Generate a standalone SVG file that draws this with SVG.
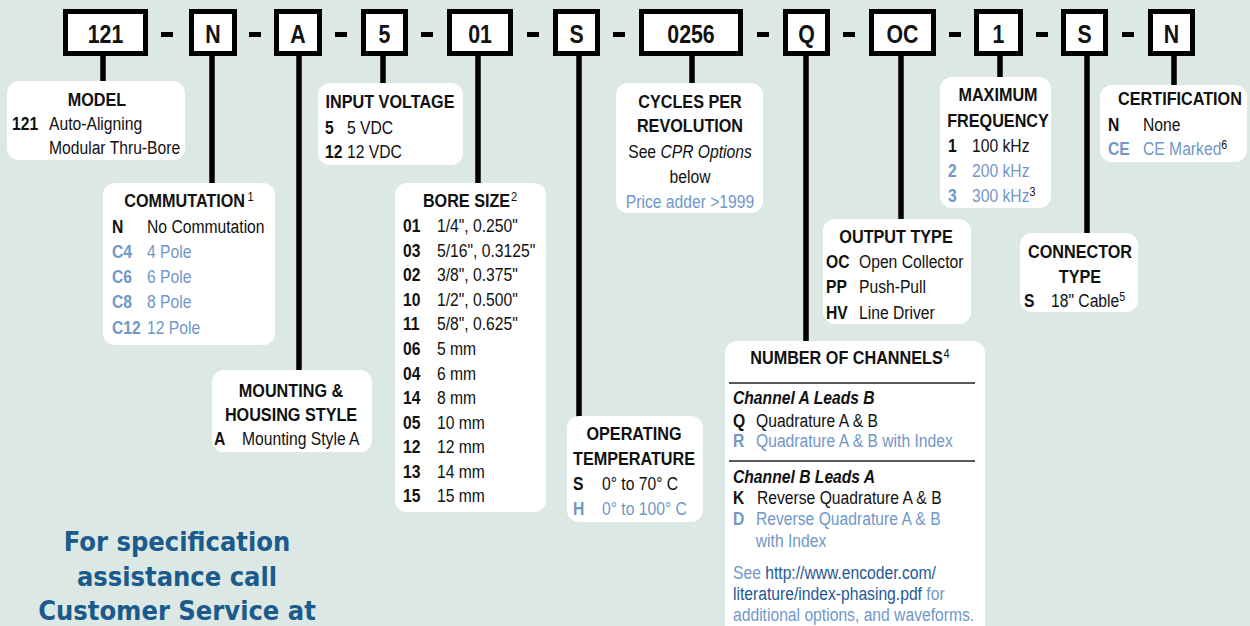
<svg xmlns="http://www.w3.org/2000/svg" width="1250" height="626" viewBox="0 0 1250 626">
<style>
text{font-family:'Liberation Sans',Arial,sans-serif;font-size:19px;fill:#111;transform-box:fill-box;transform-origin:0 0;transform:scaleX(.825)}
.code{font-weight:bold;font-size:26px;text-anchor:middle;transform-origin:50% 0;transform:scaleX(.82)}
.box{fill:#fff;stroke:#000;stroke-width:5}
.card{fill:#fff}
.ln{stroke:#000;stroke-width:5.5;fill:none}
.dash{fill:#000}
.h{font-weight:bold;text-anchor:middle;transform-origin:50% 0;transform:scaleX(.853)}
.m{text-anchor:middle;transform-origin:50% 0}
.k{font-weight:bold}
.bl{fill:#7197c9}
.sup{font-size:13px}
.url{fill:#1f5896}
text.foot{font-family:'DejaVu Sans Condensed','DejaVu Sans',sans-serif;font-weight:bold;font-size:27px;fill:#1a5a8c;text-anchor:middle;transform:none}
.sep{stroke:#222;stroke-width:1.5}
</style>
<rect width="1250" height="626" fill="#dce8e3"/>
<g id="connectors">
<line class="ln" x1="103" y1="50" x2="103" y2="86"/>
<line class="ln" x1="212" y1="50" x2="212" y2="188"/>
<line class="ln" x1="299" y1="50" x2="299" y2="375"/>
<line class="ln" x1="383" y1="50" x2="383" y2="88"/>
<line class="ln" x1="478" y1="50" x2="478" y2="188"/>
<line class="ln" x1="579" y1="50" x2="579" y2="421"/>
<line class="ln" x1="692" y1="50" x2="692" y2="88"/>
<line class="ln" x1="806" y1="50" x2="806" y2="346"/>
<line class="ln" x1="901" y1="50" x2="901" y2="224"/>
<line class="ln" x1="1000" y1="50" x2="1000" y2="82"/>
<line class="ln" x1="1087" y1="50" x2="1087" y2="238"/>
<line class="ln" x1="1174" y1="50" x2="1174" y2="90"/>
</g>
<g id="dashes">
<rect class="dash" x="161" y="32" width="12" height="5"/>
<rect class="dash" x="249" y="32" width="12" height="5"/>
<rect class="dash" x="335" y="32" width="12" height="5"/>
<rect class="dash" x="421" y="32" width="12" height="5"/>
<rect class="dash" x="527" y="32" width="12" height="5"/>
<rect class="dash" x="613" y="32" width="12" height="5"/>
<rect class="dash" x="757" y="32" width="12" height="5"/>
<rect class="dash" x="843" y="32" width="12" height="5"/>
<rect class="dash" x="949" y="32" width="12" height="5"/>
<rect class="dash" x="1036" y="32" width="12" height="5"/>
<rect class="dash" x="1122" y="32" width="12" height="5"/>
</g>
<g id="code-boxes">
<g id="code-121"><rect class="box" x="65.5" y="11.5" width="80" height="42"/><text class="code" x="105.5" y="43">121</text></g>
<g id="code-N1"><rect class="box" x="191.5" y="11.5" width="43" height="42"/><text class="code" x="213" y="43">N</text></g>
<g id="code-A"><rect class="box" x="276.5" y="11.5" width="43" height="42"/><text class="code" x="298" y="43">A</text></g>
<g id="code-5"><rect class="box" x="363.5" y="11.5" width="42" height="42"/><text class="code" x="384.5" y="43">5</text></g>
<g id="code-01"><rect class="box" x="449.5" y="11.5" width="61" height="42"/><text class="code" x="480" y="43">01</text></g>
<g id="code-S1"><rect class="box" x="555.5" y="11.5" width="42" height="42"/><text class="code" x="576.5" y="43">S</text></g>
<g id="code-0256"><rect class="box" x="641.5" y="11.5" width="99" height="42"/><text class="code" x="691" y="43">0256</text></g>
<g id="code-Q"><rect class="box" x="785.5" y="11.5" width="42" height="42"/><text class="code" x="806.5" y="43">Q</text></g>
<g id="code-OC"><rect class="box" x="871.5" y="11.5" width="62" height="42"/><text class="code" x="902.5" y="43">OC</text></g>
<g id="code-1"><rect class="box" x="976.5" y="11.5" width="44" height="42"/><text class="code" x="998.5" y="43">1</text></g>
<g id="code-S2"><rect class="box" x="1063.5" y="11.5" width="42" height="42"/><text class="code" x="1084.5" y="43">S</text></g>
<g id="code-N2"><rect class="box" x="1150.5" y="11.5" width="42" height="42"/><text class="code" x="1171.5" y="43">N</text></g>
</g>
<g id="model">
<rect class="card" x="7" y="81" width="178" height="79" rx="12"/>
<text class="h" x="97" y="106">MODEL</text>
<text class="k" x="12" y="130">121</text><text x="49" y="130">Auto-Aligning</text>
<text x="49" y="154">Modular Thru-Bore</text>
</g>
<g id="input-voltage">
<rect class="card" x="318" y="83" width="145" height="82" rx="12"/>
<text class="h" x="390" y="108">INPUT VOLTAGE</text>
<text class="k" x="325" y="134">5</text><text x="347" y="134">5 VDC</text>
<text class="k" x="325" y="158">12</text><text x="347" y="158">12 VDC</text>
</g>
<g id="commutation">
<rect class="card" x="103" y="183" width="172" height="162" rx="12"/>
<text class="h" x="189" y="207">COMMUTATION<tspan class="sup" font-weight="normal" dx="3" dy="-6">1</tspan></text>
<text class="k" x="112" y="233">N</text><text x="147" y="233">No Commutation</text>
<text class="k bl" x="112" y="258">C4</text><text class="bl" x="147" y="258">4 Pole</text>
<text class="k bl" x="112" y="283">C6</text><text class="bl" x="147" y="283">6 Pole</text>
<text class="k bl" x="112" y="308">C8</text><text class="bl" x="147" y="308">8 Pole</text>
<text class="k bl" x="112" y="334">C12</text><text class="bl" x="147" y="334">12 Pole</text>
</g>
<g id="mounting">
<rect class="card" x="212" y="370" width="160" height="82" rx="12"/>
<text class="h" x="291" y="397">MOUNTING &amp;</text>
<text class="h" x="291" y="421">HOUSING STYLE</text>
<text class="k" x="214" y="445">A</text><text x="242" y="445">Mounting Style A</text>
</g>
<g id="bore-size">
<rect class="card" x="395" y="183" width="151" height="329" rx="12"/>
<text class="h" x="470" y="207">BORE SIZE<tspan class="sup" font-weight="normal" dx="1" dy="-6">2</tspan></text>
<text class="k" x="403" y="232">01</text><text x="437" y="232">1/4", 0.250"</text>
<text class="k" x="403" y="257">03</text><text x="437" y="257">5/16", 0.3125"</text>
<text class="k" x="403" y="281">02</text><text x="437" y="281">3/8", 0.375"</text>
<text class="k" x="403" y="306">10</text><text x="437" y="306">1/2", 0.500"</text>
<text class="k" x="403" y="330">11</text><text x="437" y="330">5/8", 0.625"</text>
<text class="k" x="403" y="355">06</text><text x="437" y="355">5 mm</text>
<text class="k" x="403" y="380">04</text><text x="437" y="380">6 mm</text>
<text class="k" x="403" y="404">14</text><text x="437" y="404">8 mm</text>
<text class="k" x="403" y="429">05</text><text x="437" y="429">10 mm</text>
<text class="k" x="403" y="453">12</text><text x="437" y="453">12 mm</text>
<text class="k" x="403" y="478">13</text><text x="437" y="478">14 mm</text>
<text class="k" x="403" y="502">15</text><text x="437" y="502">15 mm</text>
</g>
<g id="operating-temperature">
<rect class="card" x="567" y="416" width="136" height="106" rx="12"/>
<text class="h" x="634" y="440">OPERATING</text>
<text class="h" x="634" y="465">TEMPERATURE</text>
<text class="k" x="573" y="490">S</text><text x="602" y="490">0° to 70° C</text>
<text class="k bl" x="573" y="515">H</text><text class="bl" x="602" y="515">0° to 100° C</text>
</g>
<g id="cpr">
<rect class="card" x="616" y="83" width="147" height="130" rx="12"/>
<text class="h" x="690" y="108">CYCLES PER</text>
<text class="h" x="690" y="132">REVOLUTION</text>
<text class="m" x="690" y="158">See <tspan font-style="italic">CPR Options</tspan></text>
<text class="m" x="690" y="183">below</text>
<text class="m bl" x="690" y="208">Price adder &gt;1999</text>
</g>
<g id="output-type">
<rect class="card" x="823" y="219" width="148" height="105" rx="12"/>
<text class="h" x="896" y="243">OUTPUT TYPE</text>
<text class="k" x="826" y="268">OC</text><text x="859" y="268">Open Collector</text>
<text class="k" x="826" y="293">PP</text><text x="859" y="293">Push-Pull</text>
<text class="k" x="826" y="319">HV</text><text x="859" y="319">Line Driver</text>
</g>
<g id="number-of-channels">
<rect class="card" x="725" y="341" width="260" height="300" rx="12"/>
<text class="h" x="850" y="364">NUMBER OF CHANNELS<tspan class="sup" font-weight="normal" dx="1" dy="-6">4</tspan></text>
<line class="sep" x1="729" y1="383" x2="975" y2="383"/>
<text class="k" x="733" y="404" font-style="italic">Channel A Leads B</text>
<text class="k" x="733" y="427">Q</text><text x="756" y="427">Quadrature A &amp; B</text>
<text class="k bl" x="733" y="447">R</text><text class="bl" x="756" y="447">Quadrature A &amp; B with Index</text>
<line class="sep" x1="729" y1="461" x2="975" y2="461"/>
<text class="k" x="733" y="483" font-style="italic">Channel B Leads A</text>
<text class="k" x="733" y="504">K</text><text x="757" y="504">Reverse Quadrature A &amp; B</text>
<text class="k bl" x="733" y="525">D</text><text class="bl" x="756" y="525">Reverse Quadrature A &amp; B</text>
<text class="bl" x="756" y="547">with Index</text>
<text class="bl" x="733" y="579">See <tspan class="url">http://www.encoder.com/</tspan></text>
<text class="bl" x="733" y="600"><tspan class="url">literature/index-phasing.pdf</tspan> for</text>
<text class="bl" x="733" y="621">additional options, and waveforms.</text>
</g>
<g id="maximum-frequency">
<rect class="card" x="940" y="77" width="111" height="131" rx="12"/>
<text class="h" x="998" y="101">MAXIMUM</text>
<text class="h" x="998" y="127">FREQUENCY</text>
<text class="k" x="948" y="152">1</text><text x="972" y="152">100 kHz</text>
<text class="k bl" x="948" y="177">2</text><text class="bl" x="972" y="177">200 kHz</text>
<text class="k bl" x="948" y="202">3</text><text class="bl" x="972" y="202">300 kHz<tspan class="sup" fill="#111" dy="-6">3</tspan></text>
</g>
<g id="connector-type">
<rect class="card" x="1020" y="233" width="118" height="79" rx="12"/>
<text class="h" x="1080" y="258">CONNECTOR</text>
<text class="h" x="1080" y="283">TYPE</text>
<text class="k" x="1024" y="307">S</text><text x="1051" y="307">18" Cable<tspan class="sup" dy="-6">5</tspan></text>
</g>
<g id="certification">
<rect class="card" x="1100" y="85" width="147" height="77" rx="12"/>
<text class="h" x="1180" y="105">CERTIFICATION</text>
<text class="k" x="1108" y="131">N</text><text x="1143" y="131">None</text>
<text class="k bl" x="1108" y="155">CE</text><text class="bl" x="1143" y="155">CE Marked<tspan class="sup" fill="#111" dy="-6">6</tspan></text>
</g>
<g id="footer">
<text class="foot" x="177" y="551">For specification</text>
<text class="foot" x="177" y="586">assistance call</text>
<text class="foot" x="177" y="620">Customer Service at</text>
</g>
</svg>
